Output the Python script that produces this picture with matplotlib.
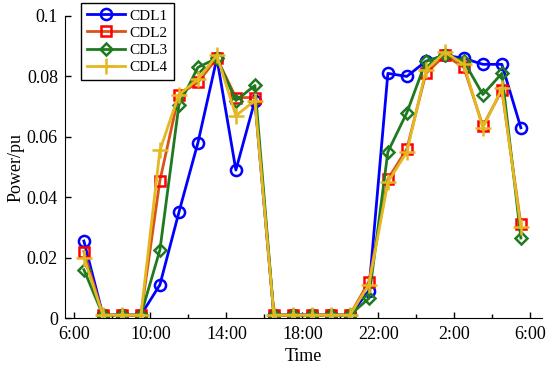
import numpy as np
import matplotlib.pyplot as plt
from matplotlib.ticker import MultipleLocator

plt.rcParams['font.family'] = ['Liberation Serif', 'DejaVu Serif']

# hourly samples from 6:30 to 5:30 next day (hours since 0:00 of day 1)
hours = np.arange(6.5, 30.5, 1.0)

cdl1 = [0.0255, 0.001, 0.001, 0.001, 0.011, 0.035, 0.058, 0.086, 0.049, 0.072,
        0.001, 0.001, 0.001, 0.001, 0.001, 0.009, 0.081, 0.080, 0.085, 0.087,
        0.086, 0.084, 0.084, 0.063]
cdl2 = [0.022, 0.001, 0.001, 0.001, 0.0455, 0.074, 0.078, 0.086, 0.073, 0.073,
        0.001, 0.001, 0.001, 0.001, 0.001, 0.012, 0.046, 0.056, 0.081, 0.087,
        0.083, 0.0635, 0.0755, 0.031]
cdl3 = [0.016, 0.001, 0.001, 0.001, 0.0225, 0.0705, 0.083, 0.086, 0.072, 0.077,
        0.001, 0.001, 0.001, 0.001, 0.001, 0.0065, 0.055, 0.068, 0.085, 0.087,
        0.085, 0.074, 0.081, 0.0265]
cdl4 = [0.020, 0.001, 0.001, 0.001, 0.0555, 0.074, 0.079, 0.087, 0.067, 0.072,
        0.001, 0.001, 0.001, 0.001, 0.001, 0.011, 0.045, 0.055, 0.082, 0.088,
        0.084, 0.063, 0.076, 0.030]

tick_pos = [6, 10, 14, 18, 22, 26, 30]
tick_lab = ["6:00", "10:00", "14:00", "18:00", "22:00", "2:00", "6:00"]

fig = plt.figure(figsize=(5.5, 3.72), dpi=100)
ax = fig.add_axes([0.118, 0.145, 0.867, 0.812])

styles = [
    (cdl1, "CDL1", "#0000FF", "#0000FF", "o", 8),
    (cdl2, "CDL2", "#D95319", "#FF0000", "s", 7.5),
    (cdl3, "CDL3", "#1F7A1F", "#1F7A1F", "D", 6.5),
    (cdl4, "CDL4", "#E3B820", "#E3B820", "+", 11),
]
for vals, lab, lc, mc, m, ms in styles:
    ax.plot(hours, vals, color=lc, lw=2, marker=m, markersize=ms,
            markerfacecolor="none", markeredgecolor=mc, markeredgewidth=1.8,
            label=lab)

ax.set_xlim(5.5, 30.6)
ax.set_ylim(0, 0.1)
ax.set_xticks(tick_pos)
ax.set_xticklabels(tick_lab)
ax.xaxis.set_minor_locator(MultipleLocator(2))
ax.set_yticks([0, 0.02, 0.04, 0.06, 0.08, 0.1])
ax.set_yticklabels(["0", "0.02", "0.04", "0.06", "0.08", "0.1"])
ax.tick_params(direction="in", labelsize=13, length=4, width=1)
ax.tick_params(axis="x", pad=6)
ax.tick_params(axis="y", pad=5)
ax.tick_params(which="minor", direction="in", length=3, width=1)
ax.spines["top"].set_visible(False)
ax.spines["right"].set_visible(False)
ax.set_xlabel("Time", fontsize=13, labelpad=3)
ax.set_ylabel("Power/pu", fontsize=13, labelpad=2)

leg = ax.legend(loc="upper left", bbox_to_anchor=(0.147, 0.992),
                bbox_transform=fig.transFigure, fontsize=11, frameon=True,
                fancybox=False, edgecolor="black", framealpha=1,
                handlelength=2.5, labelspacing=0.22, borderpad=0.4,
                handletextpad=0.3, borderaxespad=0)
leg.get_frame().set_linewidth(1)

plt.savefig("out.png", dpi=100)
